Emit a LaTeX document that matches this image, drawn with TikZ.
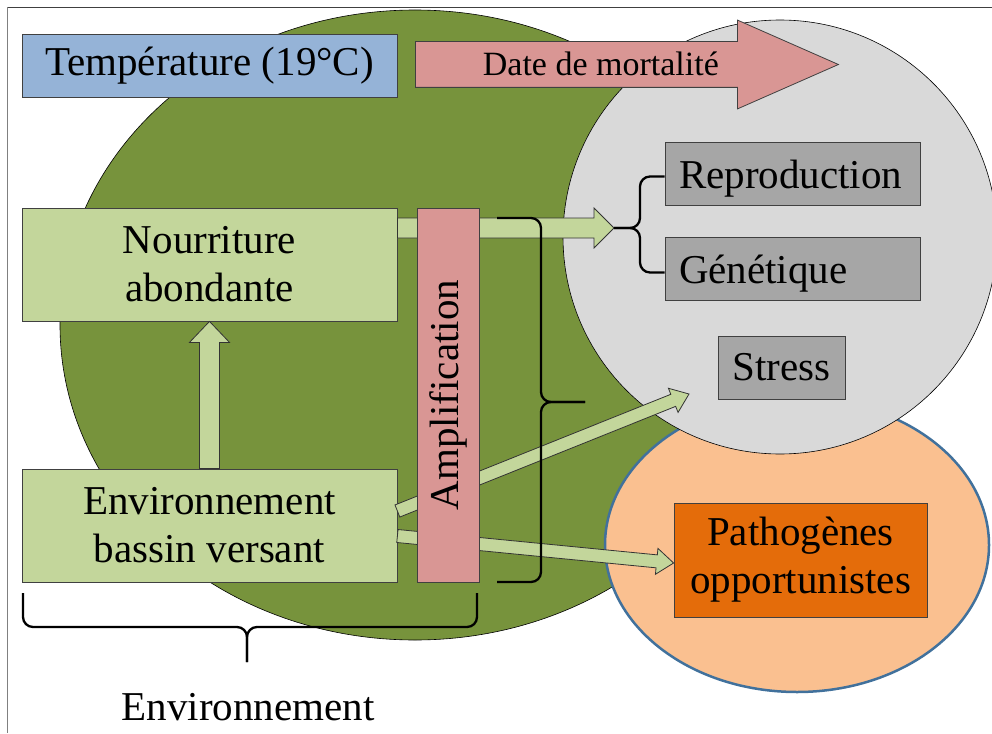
\documentclass[tikz,border=0pt]{standalone}
\usepackage{fontspec}
\setmainfont{Liberation Serif}
\usetikzlibrary{calc,shapes.arrows}

\definecolor{grassgreen}{HTML}{77933C}
\definecolor{palegreen}{HTML}{C3D69B}
\definecolor{skyblue}{HTML}{95B3D7}
\definecolor{rosepink}{HTML}{D99694}
\definecolor{cloudgray}{HTML}{D9D9D9}
\definecolor{boxgray}{HTML}{A6A6A6}
\definecolor{peach}{HTML}{FAC090}
\definecolor{rimblue}{HTML}{41719C}
\definecolor{rust}{HTML}{E46C0A}

\begin{document}
\begin{tikzpicture}
[x=1pt,y=-1pt,
 font=\fontsize{41}{48}\selectfont,
 box/.style={draw=black!75,line width=0.8pt,inner sep=0pt,align=center},
 greenbox/.style={box,fill=palegreen,minimum width=375pt,minimum height=113pt},
 graybox/.style={box,fill=boxgray,minimum height=63pt,text width=227pt,align=left,inner xsep=14pt,
   text height=38pt,text depth=9pt},
 blockarrow/.style n args={3}{draw=black!80,line width=0.8pt,fill=palegreen,line join=miter,
   to path={($(\tikztostart)!#1!90:(\tikztotarget)$)
     -- ($(\tikztotarget)!#3!(\tikztostart)!#1!-90:(\tikztostart)$)
     -- ($(\tikztotarget)!#3!(\tikztostart)!#2!-90:(\tikztostart)$)
     -- (\tikztotarget)
     -- ($(\tikztotarget)!#3!(\tikztostart)!#2!90:(\tikztostart)$)
     -- ($(\tikztotarget)!#3!(\tikztostart)!#1!90:(\tikztostart)$)
     -- ($(\tikztostart)!#1!-90:(\tikztotarget)$) -- cycle}},
 bracket/.style={draw=black,line width=2.3pt,rounded corners=10pt}]

\useasboundingbox (0,0) rectangle (992,733);

% background shapes
\draw[black!75] (7,7.5) -- (992,7.5);
\draw[gray] (7.5,7) -- (7.5,733);
\draw[fill=grassgreen,line width=0.6pt] (415,325) ellipse [x radius=355pt,y radius=315pt];
\draw[fill=peach,draw=rimblue,line width=2.5pt] (797,545) ellipse [x radius=192pt,y radius=147pt];
\draw[fill=cloudgray,line width=0.6pt] (780,237) circle [radius=217pt];

% Nodes of the diagram
\node(temp)[box,fill=skyblue,minimum width=375pt,minimum height=63pt] at (209.5,65.5) {Température (19°C)};

\node(date)[single arrow,draw=black!75,line width=0.8pt,fill=rosepink,anchor=tail,
  minimum height=423pt,single arrow head extend=21.5pt,single arrow tip angle=47.5,
  inner ysep=0pt,text height=33.5pt,text depth=11.5pt,font=\fontsize{34}{40}\selectfont] at (415,64.5) {Date de mortalité};

\node(nour)[greenbox] at (209.5,264.5) {Nourriture\\abondante};
\node(env)[greenbox] at (209.5,525.5) {Environnement\\bassin versant};

\node(repr)[graybox] at (792.5,173.5) {Reproduction};
\node(gene)[graybox] at (792.5,268.5) {Génétique};
\node(stress)[box,fill=boxgray,minimum width=127pt,minimum height=63pt] at (781.5,367.5) {Stress};

\node(patho)[box,fill=rust,minimum width=253pt,minimum height=114pt] at (800.5,560) {Pathogènes\\opportunistes};

\coordinate (fork) at (614,228);
\coordinate (stressin) at (689,394);
\coordinate (e1) at ([yshift=14.5pt]env.east);
\coordinate (e2) at ([yshift=-10.5pt]env.east);
\coordinate (pathoin) at ([yshift=-3pt]patho.west);

% fat arrows
\draw[blockarrow={10pt}{20pt}{21pt}] (env.north) to (nour.south);
\draw[blockarrow={10pt}{20pt}{20pt}] (nour.east |- fork) to (fork);
\draw[blockarrow={6.5pt}{13pt}{17pt}] (e1) to (stressin);
\draw[blockarrow={6.5pt}{13pt}{17pt}] (e2) to (pathoin);

\node(ampl)[box,fill=rosepink,rotate=90,minimum width=374pt,minimum height=62pt] at (448,395) {Amplification};

% braces
\draw[bracket] (497,218) -| (541,402) -- (585,402);
\draw[bracket] (497,582) -| (541,402) -- (585,402);
\draw[bracket] ([yshift=-3pt]repr.west) -| (640,228) -- (fork);
\draw[bracket] ([yshift=-4pt]gene.west) -| (640,228) -- (fork);
\draw[bracket] (23,593) |- (247,627) -- (247,662);
\draw[bracket] (477,593) |- (247,627) -- (247,662);

\node(envlabel) at (248,707) {Environnement};
\end{tikzpicture}
\end{document}
